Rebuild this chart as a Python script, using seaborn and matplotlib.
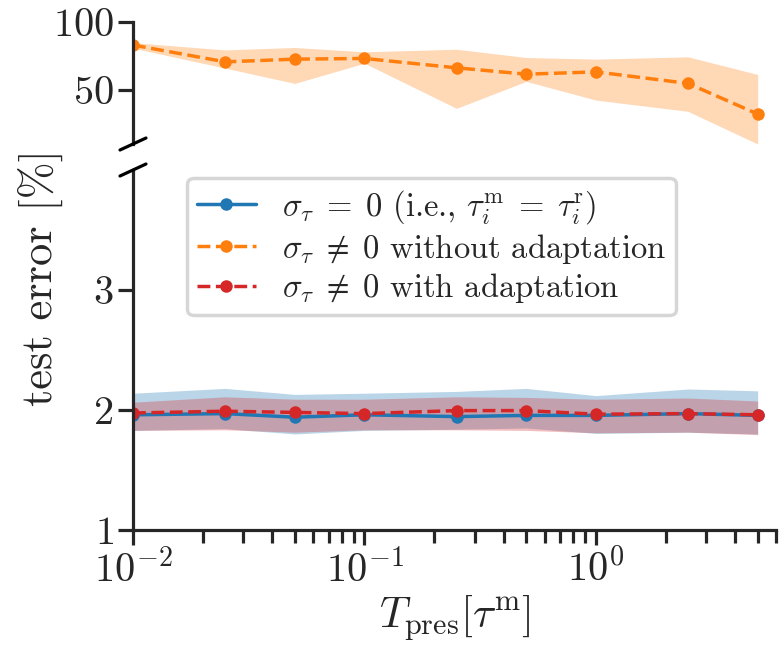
import numpy as np
import pandas as pd
import matplotlib
matplotlib.use("Agg")
import matplotlib.pyplot as plt
import seaborn as sns

# ---------------- data ----------------
t_pres = [0.01, 0.025, 0.05, 0.1, 0.25, 0.5, 1.0, 2.5, 5.0]

blue_mean = [1.96, 1.97, 1.94, 1.96, 1.945, 1.955, 1.955, 1.97, 1.955]
blue_hi = [2.14, 2.18, 2.13, 2.14, 2.155, 2.18, 2.12, 2.175, 2.16]
blue_lo = [1.83, 1.845, 1.80, 1.83, 1.84, 1.85, 1.805, 1.815, 1.80]

orange_mean = [83.0, 70.6, 72.6, 73.1, 66.2, 61.5, 63.2, 54.7, 32.1]
orange_hi = [84.8, 79.4, 81.2, 78.0, 79.9, 73.8, 72.6, 74.3, 61.3]
orange_lo = [80.7, 66.0, 54.7, 69.6, 36.3, 56.2, 42.4, 34.1, 10.0]

red_mean = [1.975, 1.99, 1.98, 1.97, 1.995, 1.995, 1.965, 1.97, 1.96]
red_hi = [2.065, 2.11, 2.09, 2.09, 2.11, 2.105, 2.09, 2.10, 2.075]
red_lo = [1.83, 1.835, 1.815, 1.835, 1.835, 1.83, 1.81, 1.815, 1.795]

labels = [r"$\sigma_\tau\;=\;0$ (i.e., $\tau_i^\mathrm{m}\;=\;\tau_i^\mathrm{r}$)",
          r"$\sigma_\tau\;\neq\;0$ without adaptation",
          r"$\sigma_\tau\;\neq\;0$ with adaptation"]

# ---------------- style ----------------
sns.set_theme(style="ticks")
plt.rcParams["font.family"] = ["cmr10", "DejaVu Serif"]
plt.rcParams["mathtext.fontset"] = "cm"
plt.rcParams["axes.formatter.use_mathtext"] = True
plt.rcParams["axes.unicode_minus"] = True

C_BLUE, C_ORANGE, C_RED = "#1f77b4", "#ff7f0e", "#d62728"

fig = plt.figure(figsize=(7.8, 6.47), dpi=100)
W, H = 780, 647
left, right = 133 / W, 776 / W
ax_top = fig.add_axes([left, 1 - 144 / H, right - left, (144 - 22) / H])
ax_bot = fig.add_axes([left, 1 - 530 / H, right - left, (530 - 170) / H])

df = pd.DataFrame({"t": t_pres, "blue": blue_mean, "orange": orange_mean, "red": red_mean})

LW, MS = 2.5, 9
for ax in (ax_top, ax_bot):
    ax.fill_between(t_pres, blue_lo, blue_hi, color=C_BLUE, alpha=0.3, lw=0)
    sns.lineplot(data=df, x="t", y="blue", ax=ax, color=C_BLUE, marker="o",
                 markersize=MS, markeredgewidth=0, linewidth=LW, linestyle="-",
                 label=labels[0])
    ax.fill_between(t_pres, orange_lo, orange_hi, color=C_ORANGE, alpha=0.3, lw=0)
    sns.lineplot(data=df, x="t", y="orange", ax=ax, color=C_ORANGE, marker="o",
                 markersize=MS, markeredgewidth=0, linewidth=LW, linestyle="--",
                 label=labels[1])
    ax.fill_between(t_pres, red_lo, red_hi, color=C_RED, alpha=0.3, lw=0)
    sns.lineplot(data=df, x="t", y="red", ax=ax, color=C_RED, marker="o",
                 markersize=MS, markeredgewidth=0, linewidth=LW, linestyle="--",
                 label=labels[2])
    ax.set_xscale("log")
    ax.set_xlim(0.01, 6)
    ax.set_xlabel("")
    ax.set_ylabel("")
    for s in ("top", "right"):
        ax.spines[s].set_visible(False)
    ax.spines["left"].set_linewidth(2.3)
    ax.spines["bottom"].set_linewidth(2.3)
    ax.tick_params(which="major", length=11, width=2.3, labelsize=29,
                   direction="out", pad=3)
    ax.tick_params(which="minor", length=9, width=2.3, direction="out")

ax_top.set_ylim(10, 100)
ax_top.set_yticks([50, 100])
ax_top.spines["bottom"].set_visible(False)
ax_top.tick_params(axis="x", which="both", bottom=False, labelbottom=False)
ax_top.get_legend().remove()

ax_bot.set_ylim(1, 4)
ax_bot.set_yticks([1, 2, 3])
ax_bot.set_xlabel(r"$T_\mathrm{pres}[\tau^\mathrm{m}]$", fontsize=31, labelpad=2)

leg = ax_bot.legend(loc="upper left", bbox_to_anchor=(0.084, 0.978),
                    borderaxespad=0, fontsize=23.5, frameon=True,
                    handlelength=1.8, borderpad=0.3, labelspacing=0.18,
                    handletextpad=0.8)
leg.get_frame().set_edgecolor("0.8")
leg.get_frame().set_linewidth(2.5)

fig.text(40 / W, 1 - 278 / H, "test error [%]", rotation=90, fontsize=32,
         ha="center", va="center")

# break marks
for yb in (144, 170):
    xc, yc = 133, yb
    fig.add_artist(plt.Line2D([(xc - 13) / W, (xc + 13) / W],
                              [1 - (yc + 6) / H, 1 - (yc - 6) / H],
                              color="black", lw=2.3))

fig.savefig("out.png", dpi=100)
